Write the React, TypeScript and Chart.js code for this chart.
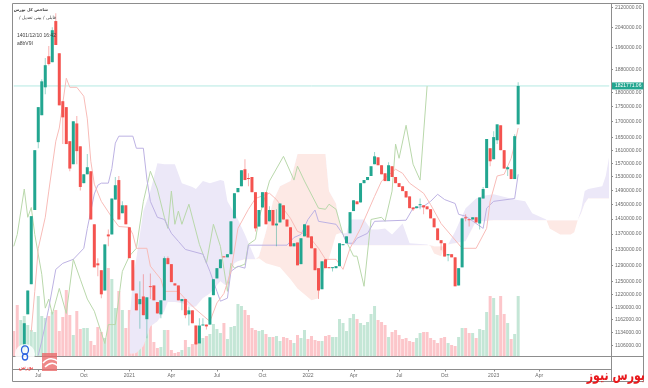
import React, { useEffect, useRef } from "react";
import { Chart, registerables } from "chart.js";

Chart.register(...registerables);

// Weekly candles, prices in thousands. The first candle sits in slot LEAD.
const SLOTS = 171;
const LEAD = 3;
const opens = [
  1100,1174,1244,1435,1635,1722,1817,1929,1907,2064,
  1940,1769,1749,1638,1567,1695,1622,1511,1537,1546,
  1396,1295,1278,1229,1369,1369,1464,1520,1426,1448,
  1388,1303,1222,1197,1215,1163,1239,1241,1202,1174,
  1206,1308,1293,1246,1241,1204,1209,1174,1183,1149,
  1110,1149,1151,1151,1218,1258,1283,1312,1310,1318,
  1412,1485,1502,1552,1526,1529,1485,1390,1442,1485,
  1404,1435,1393,1401,1448,1409,1388,1338,1348,1293,
  1364,1393,1364,1333,1283,1232,1305,1285,1283,1283,
  1288,1341,1346,1372,1432,1459,1456,1511,1520,1532,
  1567,1588,1564,1540,1517,1561,1529,1511,1502,1488,
  1473,1442,1440,1448,1448,1445,1437,1412,1385,1354,
  1346,1315,1318,1310,1241,1285,1415,1409,1409,1415,
  1398,1467,1497,1616,1582,1641,1689,1610,1552,1552,
  1523,1692,
];
const closes = [
  1154,1229,1418,1610,1749,1838,1896,1900,2028,1971,
  1755,1715,1629,1554,1702,1607,1500,1537,1558,1409,
  1285,1290,1220,1343,1364,1467,1505,1409,1448,1396,
  1308,1229,1183,1209,1172,1213,1237,1206,1176,1206,
  1308,1293,1249,1241,1206,1209,1172,1183,1154,1108,
  1149,1151,1147,1213,1256,1283,1305,1310,1318,1404,
  1482,1497,1549,1520,1523,1485,1385,1435,1485,1396,
  1435,1393,1398,1453,1409,1390,1338,1346,1290,1359,
  1396,1361,1333,1278,1229,1300,1283,1283,1285,1288,
  1346,1343,1364,1429,1462,1451,1511,1520,1529,1561,
  1591,1564,1537,1517,1564,1529,1511,1500,1488,1470,
  1440,1437,1445,1451,1442,1437,1412,1388,1354,1346,
  1312,1318,1310,1239,1283,1412,1412,1407,1415,1401,
  1470,1494,1645,1576,1651,1692,1610,1554,1558,1523,
  1654,1821.77,
];
const highs = [
  1154,1229,1418,1610,1749,1845,1922,1967,2040,2095,
  1940,1769,1749,1638,1702,1719,1622,1537,1598,1546,
  1396,1308,1278,1343,1382,1467,1529,1532,1459,1448,
  1388,1303,1222,1251,1268,1213,1270,1241,1202,1206,
  1312,1312,1293,1246,1241,1209,1209,1192,1183,1149,
  1165,1165,1151,1213,1256,1283,1305,1312,1318,1404,
  1482,1497,1549,1582,1540,1529,1485,1435,1485,1485,
  1445,1435,1437,1453,1448,1409,1388,1346,1348,1359,
  1396,1393,1364,1333,1283,1300,1305,1285,1285,1288,
  1346,1343,1364,1429,1462,1459,1511,1520,1529,1561,
  1604,1588,1564,1540,1573,1561,1529,1511,1502,1488,
  1473,1442,1445,1467,1448,1445,1437,1412,1385,1354,
  1346,1318,1318,1310,1283,1412,1423,1409,1415,1415,
  1470,1500,1645,1616,1670,1692,1689,1610,1561,1552,
  1660,1835,
];
const lows = [
  1095,1174,1244,1435,1616,1722,1793,1895,1907,1971,
  1755,1629,1629,1546,1567,1567,1490,1511,1537,1409,
  1285,1263,1211,1229,1338,1369,1464,1409,1426,1396,
  1308,1229,1183,1142,1172,1121,1209,1206,1176,1165,
  1206,1293,1249,1241,1206,1183,1165,1149,1154,1108,
  1149,1149,1140,1151,1218,1258,1283,1310,1310,1318,
  1412,1485,1502,1520,1502,1485,1377,1390,1442,1396,
  1404,1393,1338,1401,1409,1390,1338,1338,1290,1293,
  1364,1361,1333,1278,1209,1232,1283,1283,1275,1283,
  1288,1341,1346,1372,1432,1451,1456,1511,1520,1532,
  1567,1564,1537,1517,1517,1529,1511,1500,1488,1470,
  1440,1432,1440,1437,1423,1437,1412,1388,1354,1328,
  1312,1300,1310,1239,1241,1285,1404,1390,1409,1401,
  1382,1467,1497,1561,1582,1629,1610,1554,1532,1523,
  1523,1692,
];
// Volume in relative units. The three leading bars have no visible candle.
const leadVolumes = [25, 51, 36];
const leadVolumeUp = [false, false, true];
const volumes = [
  40,31,26,24,60,40,38,40,44,46,
  25,39,66,41,21,45,27,28,28,15,
  11,29,24,18,88,77,48,65,46,28,
  46,35,35,21,25,26,31,14,8,9,
  26,26,6,3,4,6,16,9,12,14,
  15,18,20,22,32,27,23,33,17,29,
  30,52,50,46,41,28,26,25,26,22,
  19,19,20,15,19,18,16,13,21,18,
  26,17,20,16,15,15,20,21,19,19,
  37,33,25,38,42,37,33,31,34,42,
  50,36,34,31,19,24,26,21,17,18,
  15,14,18,23,24,24,18,16,13,18,
  19,13,11,10,19,28,28,23,23,18,
  27,26,44,60,58,41,60,42,33,17,
  22,60,
];
// Indicator lines: [week slot, price in thousands]
const baseLine: number[][] = [
  [5,1136],[6,1227],[7,1333],[9,1415],[10,1488],[12,1638],[13,1680],[15,1849],[16,1817],[18,1817],
  [20,1786],[21,1710],[22,1576],[23,1508],[25,1459],[28,1415],[30,1390],[33,1388],[34,1369],[35,1333],
  [38,1333],[39,1288],[42,1256],[43,1227],[47,1227],[49,1209],[52,1185],[56,1158],[58,1200],[60,1222],
  [62,1275],[64,1385],[67,1437],[69,1467],[73,1482],[75,1464],[79,1412],[81,1377],[84,1367],[87,1333],
  [89,1305],[92,1305],[94,1280],[96,1333],[99,1385],[103,1473],[105,1517],[109,1552],[111,1540],[113,1511],
  [117,1482],[119,1450],[122,1398],[128,1333],[132,1333],[135,1385],[136,1459],[138,1532],[140,1537],[142,1585],
  [143,1629],[144,1680],
];
const conversionLine: number[][] = [
  [7,1085],[8,1115],[10,1188],[12,1280],[14,1295],[17,1305],[20,1333],[21,1385],[23,1480],[24,1505],
  [25,1511],[27,1511],[28,1554],[29,1632],[30,1654],[34,1654],[35,1616],[37,1616],[38,1523],[39,1459],
  [41,1415],[43,1409],[45,1372],[47,1351],[49,1330],[54,1318],[56,1275],[58,1227],[59,1204],[61,1211],
  [62,1275],[64,1288],[66,1283],[67,1341],[78,1341],[80,1361],[82,1369],[84,1409],[86,1435],[87,1404],
  [92,1396],[94,1369],[95,1346],[97,1346],[98,1359],[101,1372],[103,1404],[112,1407],[114,1440],[117,1445],
  [119,1459],[121,1479],[123,1464],[126,1453],[127,1423],[129,1418],[134,1385],[135,1440],[137,1459],[143,1467],
  [144,1537],
];
const laggingLine: number[][] = [
  [0,1338],[1,1369],[3,1494],[4,1415],[5,1442],[6,1369],[8,1268],[9,1188],[10,1209],[11,1174],
  [13,1234],[15,1176],[17,1305],[19,1256],[21,1209],[23,1181],[26,1110],[27,1151],[29,1151],[31,1275],
  [33,1313],[35,1333],[37,1459],[39,1546],[41,1494],[43,1415],[44,1385],[45,1488],[46,1396],[47,1432],
  [48,1396],[50,1451],[53,1343],[55,1295],[57,1396],[59,1338],[61,1227],[62,1295],[63,1283],[66,1293],
  [67,1343],[69,1356],[70,1412],[73,1517],[77,1591],[80,1520],[81,1561],[83,1517],[87,1440],[89,1437],
  [90,1451],[92,1437],[94,1369],[97,1313],[98,1313],[100,1239],[102,1409],[105,1415],[106,1404],[108,1488],
  [109,1629],[110,1585],[112,1689],[114,1567],[116,1520],[118,1821],
];
// Cloud: [week slot, span A, span B]
const cloud: number[][] = [
  [33,1151,1088],[34,1258,1088],[35,1308,1090],[37,1432,1104],[39,1488,1147],[41,1570,1158],[43,1567,1181],
  [44,1567,1202],[46,1567,1202],[48,1511,1199],[51,1500,1190],[52,1494,1192],[54,1517,1211],[56,1511,1222],
  [59,1520,1251],[60,1517,1244],[61,1459,1239],[63,1426,1295],[64,1409,1300],[66,1369,1305],[69,1305,1305],
  [70,1308,1313],[72,1295,1377],[74,1290,1459],[76,1285,1502],[79,1256,1517],[81,1234,1598],[85,1206,1598],
  [87,1211,1598],[88,1258,1598],[89,1288,1598],[90,1308,1488],[92,1369,1453],[93,1372,1398],[95,1372,1351],
  [96,1409,1341],[100,1409,1341],[102,1382,1341],[104,1382,1341],[106,1385,1341],[108,1369,1341],[111,1398,1341],
  [113,1346,1341],[118,1343,1341],[119,1338,1341],[120,1320,1338],[122,1313,1338],[123,1338,1338],[124,1343,1343],
  [126,1377,1346],[129,1440,1351],[132,1467,1404],[134,1475,1404],[137,1479,1407],[143,1464,1407],[146,1459,1407],
  [148,1426,1407],[152,1409,1407],[153,1385,1407],[156,1369,1407],[159,1369,1407],[160,1375,1407],[161,1407,1407],
  [162,1437,1426],[163,1488,1453],[164,1494,1467],[168,1502,1467],[169,1532,1467],[170,1591,1467],
];
const lastPrice = 1821.771;
const lastPriceLabel = "1821771.06";
const priceTicks = [
  2120,2040,1960,1880,1800,1750,1700,1650,1610,1570,1530,1490,1450,1410,1370,1330,1290,1250,1220,1190,1162,1134,1106,
];
const timeTicks: Record<number, string> = {
  7: "Jul", 20: "Oct", 33: "2021", 45: "Apr", 58: "Jul", 71: "Oct", 84: "2022", 97: "Apr", 110: "Jul", 123: "Oct", 137: "2023", 150: "Apr",
};
const infoLines = ["شاخص کل بورس", "قابلی / بینی تعدیل /", "1401/12/10 16:42", "a8bV9I"];
const watermark = "بورس نیوز";

const UP = "#22a690";
const DOWN = "#f4534f";
const AXIS = "#8d8d8d";
const TEXT = "#6a6a6a";
const FONT = "'Liberation Sans', Arial, sans-serif";

const labels = Array.from({ length: SLOTS }, (_, i) => i);
const lead = (n: number) => Array(n).fill(null);
const up = opens.map((o, i) => closes[i] >= o);
const bodyData = [...lead(LEAD), ...opens.map((o, i) => [o, closes[i]])];
const wickData = [...lead(LEAD), ...lows.map((l, i) => [l, highs[i]])];
const volumeData = [...leadVolumes, ...volumes];
const bodyColors = [...lead(LEAD), ...up.map((u) => (u ? UP : DOWN))];
const wickColors = [...lead(LEAD), ...up.map((u) => (u ? "rgba(34,166,144,.45)" : "rgba(244,83,79,.45)"))];
const volumeColors = [...leadVolumeUp, ...up].map((u) => (u ? "#c4e6d6" : "#fcc6ca"));
const pts = (rows: number[][]) => rows.map((r) => ({ x: r[0], y: r[1] }));
const spanA = cloud.map((r) => ({ x: r[0], y: r[1] }));
const spanB = cloud.map((r) => ({ x: r[0], y: r[2] }));

const line = (data: unknown, color: string, order: number, width = 1) => ({
  type: "line" as const, data, borderColor: color, borderWidth: width, pointRadius: 0, tension: 0, fill: false, order,
});

const framePlugin = {
  id: "frame",
  afterDraw(chart: any) {
    const { ctx, chartArea: a, scales } = chart;
    const right = 643.5, bottom = 381.5, axisRow = 369.5;
    ctx.save();
    ctx.strokeStyle = AXIS;
    ctx.lineWidth = 1;
    ctx.beginPath();
    ctx.rect(12.5, 3.5, right - 12.5, bottom - 3.5);
    const x0 = 12.5, xr = Math.round(a.right) + 0.5, yb = Math.round(a.bottom) + 0.5;
    ctx.moveTo(x0, yb); ctx.lineTo(right, yb);
    ctx.moveTo(x0, axisRow); ctx.lineTo(xr, axisRow);
    ctx.moveTo(xr, 3.5); ctx.lineTo(xr, bottom);
    Object.keys(timeTicks).forEach((k) => {
      const x = Math.round(scales.x.getPixelForValue(Number(k))) + 0.5;
      ctx.moveTo(x, axisRow); ctx.lineTo(x, axisRow + 2);
    });
    ctx.stroke();
    const py = scales.y.getPixelForValue(lastPrice);
    ctx.fillStyle = UP;
    ctx.fillRect(xr + 0.5, py - 3.5, right - xr - 0.5, 7);
    ctx.fillStyle = "#ffffff";
    ctx.font = `5px ${FONT}`;
    ctx.textBaseline = "middle";
    ctx.textAlign = "left";
    ctx.fillText(lastPriceLabel, xr + 3.5, py);
    ctx.restore();
  },
};

export default function App() {
  const ref = useRef<HTMLCanvasElement>(null);
  useEffect(() => {
    const chart = new Chart(ref.current as HTMLCanvasElement, {
      type: "bar",
      data: {
        labels,
        datasets: [
          { type: "bar", data: volumeData, backgroundColor: volumeColors, barThickness: 3, inflateAmount: 0, grouped: false, yAxisID: "v", order: 9 } as any,
          { ...line(spanB, "transparent", 8, 0) } as any,
          { ...line(spanA, "transparent", 8, 0), fill: { target: 1, above: "#ece8f8", below: "#fde9e5" } } as any,
          line([{ x: 0, y: lastPrice }, { x: 170, y: lastPrice }], "#b4e9e2", 7) as any,
          line(pts(laggingLine), "#b9d8ab", 6) as any,
          line(pts(conversionLine), "#bdb2e3", 5) as any,
          line(pts(baseLine), "#f8bcb8", 4) as any,
          { type: "bar", data: wickData, backgroundColor: wickColors, barThickness: 1, inflateAmount: 0, grouped: false, order: 3 } as any,
          { type: "bar", data: bodyData, backgroundColor: bodyColors, barThickness: 3, inflateAmount: 0, minBarLength: 1, grouped: false, order: 2 } as any,
        ],
      },
      options: {
        responsive: false,
        animation: false,
        layout: { padding: { left: 12, top: 3, right: 5, bottom: 7 } },
        plugins: { legend: { display: false }, tooltip: { enabled: false }, title: { display: false } },
        scales: {
          x: {
            type: "category",
            offset: true,
            grid: { display: false, drawTicks: false },
            border: { display: false },
            afterFit: (s: any) => { s.height = 25; s.paddingLeft = 0; s.paddingRight = 0; },
            ticks: {
              autoSkip: false, maxRotation: 0, padding: 17, color: TEXT,
              font: { size: 5, family: FONT },
              callback: (v: any) => timeTicks[Number(v)] ?? "",
            },
          },
          y: {
            type: "logarithmic",
            position: "right",
            min: 1083.5,
            max: 2137,
            afterBuildTicks: (s: any) => { s.ticks = priceTicks.map((value) => ({ value })); },
            afterFit: (s: any) => { s.width = 32; s.paddingTop = 0; s.paddingBottom = 0; },
            grid: { drawOnChartArea: false, drawTicks: true, tickLength: 2, color: AXIS },
            border: { display: false },
            ticks: {
              autoSkip: false, padding: 2, color: TEXT,
              font: { size: 5, family: FONT },
              callback: (v: any) => `${Number(v) * 1000}.00`,
            },
          },
          v: { type: "linear", display: false, min: 0, max: 353 },
        },
      } as any,
      plugins: [framePlugin],
    });
    return () => chart.destroy();
  }, []);

  const info: React.CSSProperties = {
    position: "absolute", left: 17, width: 60, fontFamily: "'DejaVu Sans', sans-serif", fontSize: 4, lineHeight: "6px",
    color: "#3d3d3d", whiteSpace: "nowrap",
  };
  return (
    <div style={{ position: "fixed", left: 0, top: 0, width: 648, height: 388, background: "#fff", overflow: "hidden" }}>
      <canvas ref={ref} width={648} height={388} style={{ display: "block" }} />
      <div style={{ ...info, top: 7, fontWeight: 700, width: 31, direction: "rtl" }}>{infoLines[0]}</div>
      <div style={{ ...info, top: 15, width: 39, fontSize: 4.5, direction: "rtl" }}>{infoLines[1]}</div>
      <div style={{ ...info, top: 32, fontFamily: FONT, fontSize: 5 }}>{infoLines[2]}</div>
      <div style={{ ...info, top: 40, fontFamily: FONT, fontSize: 5 }}>{infoLines[3]}</div>
      <svg width={60} height={30} viewBox="0 0 60 30" style={{ position: "absolute", left: 8, top: 343 }}>
        <circle cx={17} cy={11} r={10} fill="#ffffff" opacity={0.85} />
        <ellipse cx={17} cy={7} rx={3.5} ry={4.2} fill="none" stroke="#2c62e0" strokeWidth={1.3} />
        <ellipse cx={17} cy={14} rx={2.6} ry={3} fill="none" stroke="#2c62e0" strokeWidth={1.3} />
        <rect x={34} y={10} width={15} height={18} fill="#ea6a6a" opacity={0.8} />
        <path d="M35 20 Q42 12 51 19 M37 24 Q44 17 50 23" fill="none" stroke="#ffffff" strokeWidth={1.5} />
        <text x={18} y={26} fontSize={6} fill="#e33" fontFamily="'DejaVu Sans'" textAnchor="middle">بورس</text>
      </svg>
      <div style={{ position: "absolute", right: 3, top: 368, fontFamily: "'DejaVu Sans', sans-serif", fontWeight: 700, fontSize: 11, lineHeight: "15px", color: "#e8191c", direction: "rtl", transform: "scaleY(1.35)", transformOrigin: "right center" }}>{watermark}</div>
    </div>
  );
}
